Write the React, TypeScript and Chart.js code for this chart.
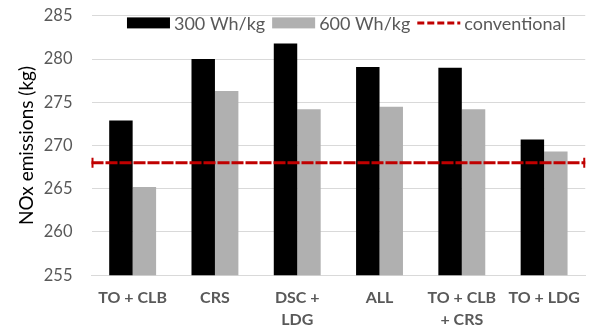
import React, { useEffect, useRef } from "react";
import { Chart, registerables } from "chart.js";

Chart.register(...registerables);

const categories: (string | string[])[] = [
  "TO + CLB",
  "CRS",
  ["DSC +", "LDG"],
  "ALL",
  ["TO + CLB", "+ CRS"],
  "TO + LDG",
];
const series300 = [272.9, 280.0, 281.8, 279.1, 279.0, 270.7];
const series600 = [265.2, 276.3, 274.2, 274.5, 274.2, 269.3];
const conventional = 268;
const yTicks = { min: 255, max: 285, step: 5 };

const FONT = "Lato, 'Open Sans', sans-serif";
const TEXT_COLOR = "#595959";
const RED = "#c00000";

const conventionalLinePlugin = {
  id: "conventionalLine",
  afterDatasetsDraw(chart: any) {
    const ds = chart.data.datasets[2];
    const y = chart.scales.y.getPixelForValue(ds.data[0]);
    const { left, right } = chart.chartArea;
    const ctx = chart.ctx;
    ctx.save();
    ctx.strokeStyle = RED;
    ctx.lineWidth = 3;
    ctx.setLineDash([12, 2]);
    ctx.beginPath();
    ctx.moveTo(left, y);
    ctx.lineTo(right, y);
    ctx.stroke();
    ctx.setLineDash([]);
    ctx.lineWidth = 2;
    ctx.beginPath();
    ctx.moveTo(left + 1, y - 5);
    ctx.lineTo(left + 1, y + 5);
    ctx.moveTo(right - 1, y - 5);
    ctx.lineTo(right - 1, y + 5);
    ctx.stroke();
    ctx.restore();
  },
};

const inlineLegendPlugin = {
  id: "inlineLegend",
  afterDraw(chart: any) {
    const ctx = chart.ctx;
    const { left, right, top } = chart.chartArea;
    const boxW = 43;
    const boxH = 11;
    const gapAfterBox = 4;
    const gapAfterText = 7;
    ctx.save();
    ctx.font = `18px ${FONT}`;
    ctx.textBaseline = "middle";
    const items = chart.data.datasets.map((ds: any) => ({
      label: ds.label as string,
      w: ctx.measureText(ds.label).width,
    }));
    const total =
      items.reduce((s: number, it: any) => s + boxW + gapAfterBox + it.w, 0) +
      gapAfterText * (items.length - 1);
    let x = (left + right) / 2 - total / 2 + 8;
    const cy = top + 7;
    chart.data.datasets.forEach((ds: any, i: number) => {
      if (i < 2) {
        ctx.fillStyle = ds.backgroundColor;
        ctx.fillRect(x, cy - boxH / 2, boxW, boxH);
      } else {
        ctx.strokeStyle = RED;
        ctx.lineWidth = 3;
        ctx.setLineDash([7, 3]);
        ctx.beginPath();
        ctx.moveTo(x, cy);
        ctx.lineTo(x + boxW, cy);
        ctx.stroke();
        ctx.setLineDash([]);
      }
      x += boxW + gapAfterBox;
      ctx.fillStyle = TEXT_COLOR;
      ctx.fillText(items[i].label, x, cy + 1);
      x += items[i].w + gapAfterText;
    });
    ctx.restore();
  },
};

export default function App() {
  const ref = useRef<HTMLCanvasElement>(null);
  useEffect(() => {
    if (!ref.current) return;
    const chart = new Chart(ref.current, {
      type: "bar",
      data: {
        labels: categories,
        datasets: [
          {
            label: "300 Wh/kg",
            data: series300,
            backgroundColor: "#000000",
            borderWidth: 0,
          } as any,
          {
            label: "600 Wh/kg",
            data: series600,
            backgroundColor: "#b0b0b0",
            borderWidth: 0,
          } as any,
          {
            type: "line",
            label: "conventional",
            data: categories.map(() => conventional),
            borderColor: RED,
            backgroundColor: RED,
            borderWidth: 3,
            showLine: false,
            pointRadius: 0,
          } as any,
        ],
      },
      options: {
        responsive: false,
        animation: false,
        layout: { padding: { top: 4, right: 3, left: 15, bottom: 4 } },
        datasets: {
          bar: { barPercentage: 1, categoryPercentage: 0.57 },
        },
        plugins: {
          tooltip: { enabled: false },
          legend: { display: false },
        },
        scales: {
          x: {
            grid: { display: false, drawTicks: false, tickLength: 0 },
            border: { color: "#d9d9d9" },
            ticks: {
              color: TEXT_COLOR,
              font: { family: FONT, size: 16, weight: "bold", lineHeight: 1.4 },
              maxRotation: 0,
              autoSkip: false,
              padding: 11,
            },
          },
          y: {
            min: yTicks.min,
            max: yTicks.max,
            border: { display: false },
            grid: { color: "#d9d9d9", drawTicks: true, tickLength: 13, tickColor: "rgba(0,0,0,0)" },
            ticks: {
              stepSize: yTicks.step,
              color: TEXT_COLOR,
              font: { family: FONT, size: 16.5 },
              padding: 6,
            },
            title: {
              display: true,
              text: "NOx emissions (kg)",
              color: "#000000",
              font: { family: FONT, size: 19 },
              padding: { top: 0, bottom: 0 },
            },
          },
        },
      },
      plugins: [conventionalLinePlugin, inlineLegendPlugin],
    });
    return () => chart.destroy();
  }, []);
  return (
    <div style={{ position: "fixed", left: 0, top: 0, width: 591, height: 335, overflow: "hidden", background: "#fff" }}>
      <canvas ref={ref} width={591} height={346} style={{ display: "block" }} />
    </div>
  );
}
